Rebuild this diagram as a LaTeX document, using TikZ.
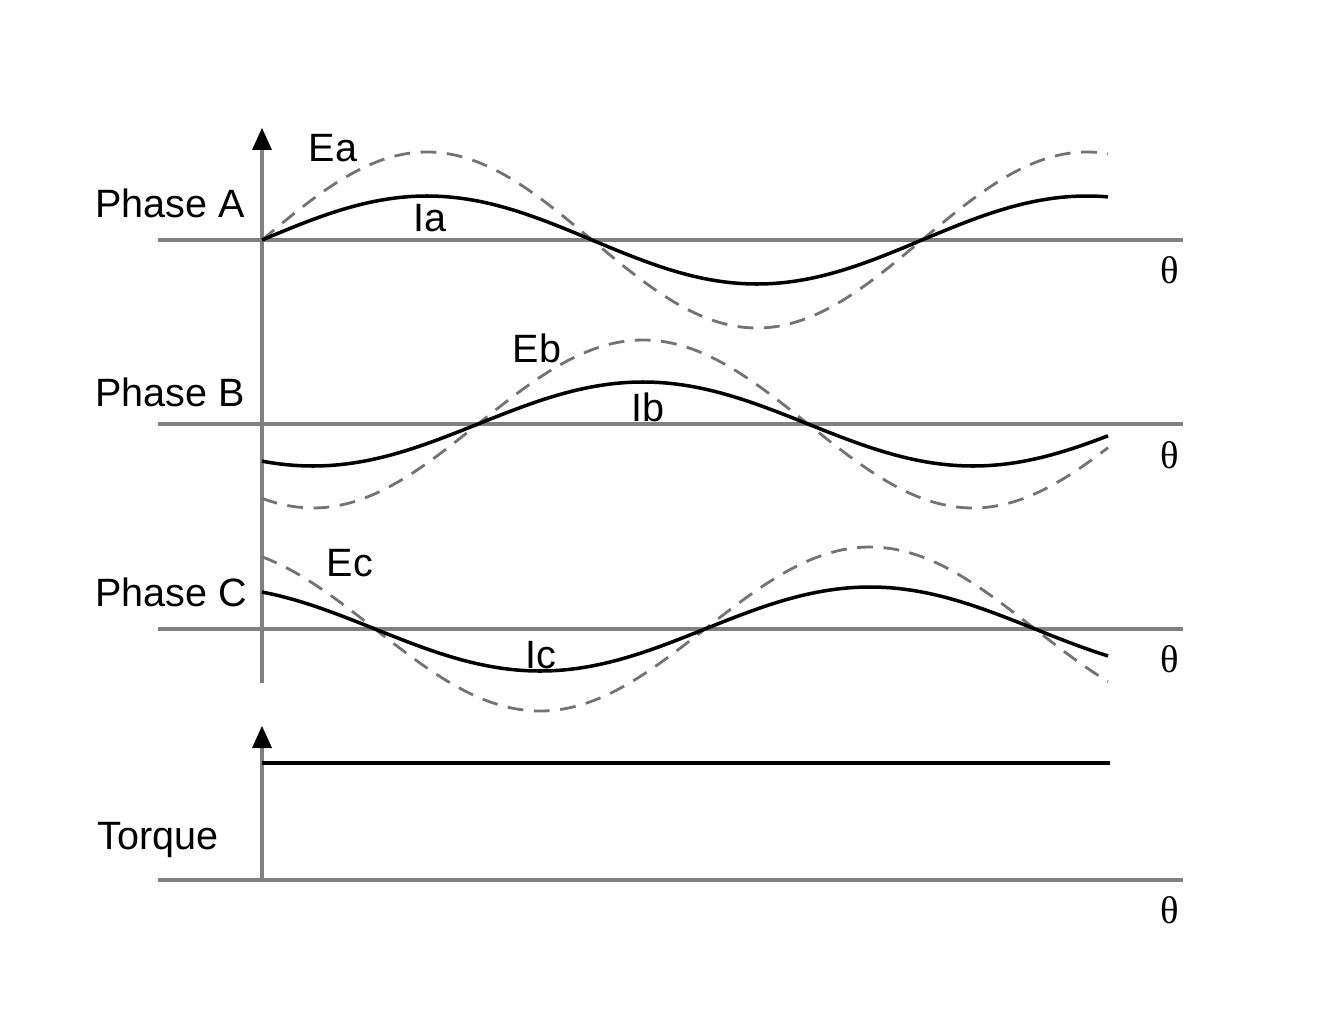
\documentclass[tikz,border=0pt]{standalone}
\usepackage{fontspec}
\setmainfont{Liberation Sans}
\newfontfamily\serifth{Liberation Serif}
\begin{document}
\begin{tikzpicture}[x=0.02cm,y=-0.02cm,
  axis/.style={draw=black!50,line width=2.2pt},
  cur/.style={black,line width=2pt},
  emf/.style={black!55,line width=1.6pt,dash pattern=on 9pt off 6pt},
  lbl/.style={font=\fontsize{22.5}{26}\selectfont,inner sep=0pt},
  th/.style={font=\serifth\fontsize{22}{26}\selectfont,inner sep=0pt}]
\useasboundingbox (0,0) rectangle (1322,1024);
% axes
\draw[axis] (262,683) -- (262,148);
\fill (262,128) -- (252,150) -- (272,150) -- cycle;
\draw[axis] (158,240) -- (1183,240);
\draw[axis] (158,424) -- (1183,424);
\draw[axis] (158,629) -- (1183,629);
\draw[axis] (262,880) -- (262,748);
\fill (262,726) -- (252,748) -- (272,748) -- cycle;
\draw[axis] (158,880) -- (1183,880);
\draw[cur] (262,763) -- (1110,763);
% phase A
\draw[emf] plot[domain=262:1108,samples=150,smooth] (\x,{240-88*sin((\x-262)/330*180)});
\draw[cur] plot[domain=262:1108,samples=150,smooth] (\x,{240-44*sin((\x-262)/330*180)});
% phase B
\draw[emf] plot[domain=262:1108,samples=150,smooth] (\x,{424-84*sin((\x-478)/330*180)});
\draw[cur] plot[domain=262:1108,samples=150,smooth] (\x,{424-42*sin((\x-478)/330*180)});
% phase C
\draw[emf] plot[domain=262:1108,samples=150,smooth] (\x,{629+82*sin((\x-375)/330*180)});
\draw[cur] plot[domain=262:1108,samples=150,smooth] (\x,{629+42*sin((\x-375)/330*180)});
% labels
\node[lbl] (pa) at (170,203) {Phase A};
\node[lbl] (pb) at (170,392) {Phase B};
\node[lbl] (pc) at (171,592) {Phase C};
\node[lbl] (tq) at (158,840) {Torque};
\node[lbl] (ea) at (333,148) {Ea};
\node[lbl] (ia) at (430,218) {Ia};
\node[lbl] (eb) at (537,348) {Eb};
\node[lbl] (ib) at (648,407) {Ib};
\node[lbl] (ec) at (350,563) {Ec};
\node[lbl] (ic) at (541,655) {Ic};
\node[th] (t1) at (1170,270) {θ};
\node[th] (t2) at (1170,455) {θ};
\node[th] (t3) at (1170,659) {θ};
\node[th] (t4) at (1170,910) {θ};
\end{tikzpicture}
\end{document}
